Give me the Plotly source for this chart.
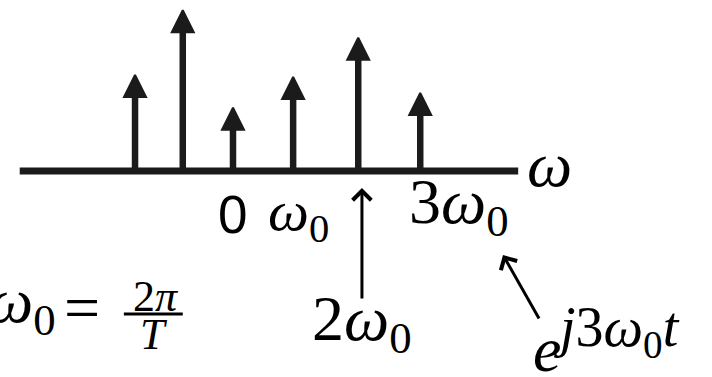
import plotly.graph_objects as go

# Harmonic index of each spectral line and where it sits on the ω axis (in units of ω0)
harmonics = [-2, -1, 0, 1, 2, 3]
line_freq = [-1.58, -0.81, 0.0, 0.97, 2.02, 3.02]
# Magnitude of each Fourier coefficient (arbitrary units)
magnitude = [2.4, 4.02, 1.58, 2.35, 3.33, 1.95]

INK = "#1b1b1b"
SERIF = "Liberation Serif"
SANS = "Liberation Sans"

fig = go.Figure()

# Horizontal ω axis drawn as a thick line
fig.add_trace(go.Scatter(
    x=[-3.44, 4.6], y=[0, 0], mode="lines",
    line=dict(color=INK, width=7), hoverinfo="skip", showlegend=False,
))

# Stems for each harmonic
sx, sy = [], []
for f, m in zip(line_freq, magnitude):
    sx += [f, f, None]
    sy += [0, m - 0.3, None]
fig.add_trace(go.Scatter(
    x=sx, y=sy, mode="lines",
    line=dict(color=INK, width=6.5), hoverinfo="skip", showlegend=False,
))

# Arrowheads on top of the stems
fig.add_trace(go.Scatter(
    x=line_freq, y=magnitude, mode="markers",
    marker=dict(symbol="arrow-up", size=22, color=INK,
                line=dict(color=INK, width=2)),
    customdata=harmonics, hoverinfo="skip", showlegend=False,
))

big = dict(family=SERIF, size=64, color="black")


def txt(x, y, text, font, xanchor="center", height=None):
    a = dict(x=x, y=y, text=text, font=font, xanchor=xanchor, yanchor="middle",
             showarrow=False, xref="x", yref="y")
    if height:
        a["height"] = height
    return a


def arrow(x_tail, y_tail, x_head, y_head):
    return dict(x=x_head, y=y_head, ax=x_tail, ay=y_tail, axref="x", ayref="y",
                xref="x", yref="y", text="", showarrow=True, arrowhead=4,
                arrowsize=1.2, arrowwidth=3, arrowcolor="black")


ann = [
    # axis label
    txt(5.11, 0.17, "<i>ω</i>", big),
    # 0 and ω0 under the axis
    txt(-0.01, -1.08, "0", dict(family=SANS, size=53, color="black")),
    txt(1.05, -1.08, "<i>ω</i><sub>0</sub>", dict(family=SERIF, size=58, color="black")),
    # 3ω0
    txt(2.8, -0.88, "3<i>ω</i><sub>0</sub>", big, xanchor="left"),
    # 2ω0 with an arrow pointing up to its line
    txt(2.08, -3.8, "2<i>ω</i><sub>0</sub>", big),
    arrow(2.08, -3.225, 2.08, -0.425),
    # e^{j3ω0 t} with an arrow pointing at 3ω0
    txt(5.07, -4.45, "<i>e</i>", big),
    txt(5.15, -4.0, "<i>j</i>3<i>ω</i><sub>0</sub><i>t</i>",
        dict(family=SERIF, size=56, color="black"), xanchor="left"),
    arrow(4.95, -3.725, 4.355, -2.1),
    # ω0 = 2π/T
    txt(-3.4, -3.35, "<i>ω</i><sub>0</sub>", big),
    txt(-2.43, -3.4, "=", big),
    txt(-1.24, -3.12, "2<i>π</i>", dict(family=SERIF, size=44, color="black"), height=30),
    txt(-1.27, -4.07, "<i>T</i>", dict(family=SERIF, size=44, color="black"), height=30),
]

fig.update_layout(
    annotations=ann,
    shapes=[dict(type="line", xref="x", yref="y", x0=-1.76, x1=-0.81, y0=-3.575, y1=-3.575,
                 line=dict(color="black", width=3))],
    width=712, height=377,
    margin=dict(l=0, r=0, t=0, b=0),
    paper_bgcolor="white", plot_bgcolor="white",
    xaxis=dict(range=[-3.758, 7.726], visible=False, fixedrange=True),
    yaxis=dict(range=[-5.15, 4.275], visible=False, fixedrange=True),
)

fig.write_html("out.html")
